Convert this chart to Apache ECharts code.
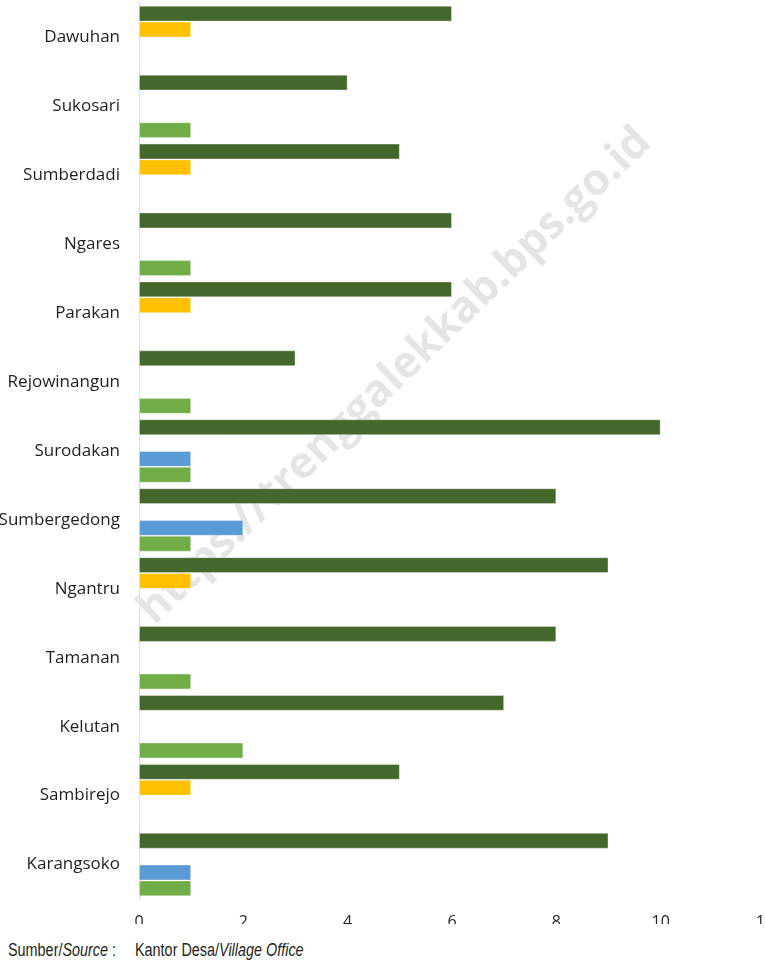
<!DOCTYPE html>
<html>
<head>
<meta charset="utf-8">
<script src="https://cdn.jsdelivr.net/npm/echarts@6/dist/echarts.min.js"></script>
<style>
  html, body { margin: 0; padding: 0; background: #fff; }
  #chart { position: absolute; left: 0; top: 0; width: 765px; height: 924px; }
  .footer {
    position: absolute; top: 940px; left: 8px;
    font-family: "Liberation Sans", Arial, sans-serif;
    font-size: 18px; line-height: 20px; color: #231f20; white-space: pre;
    transform: scaleX(0.8); transform-origin: 0 0;
  }
  .footer i { font-style: italic; }
</style>
</head>
<body>
<div id="chart"></div>
<div class="footer">Sumber/<i>Source</i> :</div>
<div class="footer" style="left:135px">Kantor Desa/<i>Village Office</i></div>
<script>
// desa, urut dari atas ke bawah
const villages = ['Dawuhan', 'Sukosari', 'Sumberdadi', 'Ngares', 'Parakan', 'Rejowinangun',
  'Surodakan', 'Sumbergedong', 'Ngantru', 'Tamanan', 'Kelutan', 'Sambirejo', 'Karangsoko'];

const darkGreen  = [6, 4, 5, 6, 6, 3, 10, 8, 9, 8, 7, 5, 9];
const yellow     = [1, 0, 1, 0, 1, 0, 0, 0, 1, 0, 0, 1, 0];
const blue       = [0, 0, 0, 0, 0, 0, 1, 2, 0, 0, 0, 0, 1];
const lightGreen = [0, 1, 0, 1, 0, 1, 1, 1, 0, 1, 2, 0, 1];

const xTicks = [0, 2, 4, 6, 8, 10, 12];

const chart = echarts.init(document.getElementById('chart'), null, { renderer: 'canvas' });

function barSeries(name, data, color) {
  return {
    name: name,
    type: 'bar',
    data: data,
    barGap: '0%',
    barCategoryGap: '8%',
    itemStyle: { color: color, borderColor: 'rgba(255,255,255,0.35)', borderWidth: 1 },
    animation: false
  };
}

const option = {
  backgroundColor: '#fff',
  grid: { left: 139, top: 3, width: 626, height: 896, containLabel: false, outerBoundsMode: 'none' },
  xAxis: {
    type: 'value',
    min: xTicks[0],
    max: xTicks[xTicks.length - 1],
    interval: 2,
    axisLine: { show: false },
    axisTick: { show: false },
    splitLine: { show: false },
    axisLabel: {
      margin: 15,
      fontFamily: 'Open Sans',
      fontSize: 16,
      color: '#262626',
      hideOverlap: false
    }
  },
  yAxis: {
    type: 'category',
    data: villages,
    inverse: true,
    axisLine: { show: true, lineStyle: { color: '#d9d9d9', width: 1 } },
    axisTick: { show: false },
    axisLabel: {
      margin: 19,
      fontFamily: 'Open Sans',
      fontSize: 17,
      color: '#1f1f1f'
    }
  },
  graphic: [{
    type: 'text',
    z: -10,
    x: 395,
    y: 376,
    rotation: 44 * Math.PI / 180,
    style: {
      text: 'https://trenggalekkab.bps.go.id',
      fontFamily: 'Open Sans',
      fontWeight: 'bold',
      fontSize: 44,
      fill: '#e5e5e5',
      align: 'center',
      verticalAlign: 'middle'
    }
  }],
  series: [
    barSeries('Seri 1', darkGreen, '#44682c'),
    barSeries('Seri 2', yellow, '#ffc000'),
    barSeries('Seri 3', blue, '#5b9bd5'),
    barSeries('Seri 4', lightGreen, '#70ad47')
  ]
};

chart.setOption(option);
</script>
</body>
</html>
